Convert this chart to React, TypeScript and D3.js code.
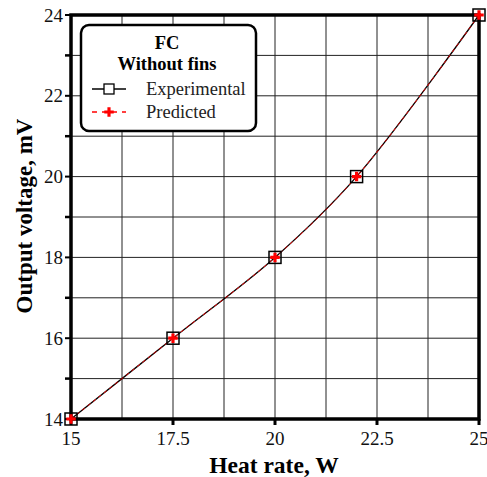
import React, { useEffect, useRef } from 'react';
import * as d3 from 'd3';

const heatRate = [15, 17.5, 20, 22, 25];
const experimental = [14, 16, 18, 20, 24];
const predicted = [14, 16, 18, 20, 24];
const xTicks = [15, 17.5, 20, 22.5, 25];
const yTicks = [14, 16, 18, 20, 22, 24];

const App = () => {
  const ref = useRef<SVGSVGElement>(null);

  useEffect(() => {
    const svg = d3.select(ref.current);
    svg.selectAll('*').remove();
    const font = '"Liberation Serif", "Times New Roman", serif';

    const x = d3.scaleLinear().domain([15, 25]).range([71, 479]);
    const y = d3.scaleLinear().domain([14, 24]).range([419, 15]);

    const g = svg.append('g');

    // grid
    const xGrid = d3.range(15, 25.01, 1.25);
    const yGrid = d3.range(14, 24.01, 1);
    g.selectAll('.gx')
      .data(xGrid)
      .enter()
      .append('line')
      .attr('x1', (d) => x(d))
      .attr('x2', (d) => x(d))
      .attr('y1', y(14))
      .attr('y2', y(24))
      .attr('stroke', '#222')
      .attr('stroke-width', 1);
    g.selectAll('.gy')
      .data(yGrid)
      .enter()
      .append('line')
      .attr('x1', x(15))
      .attr('x2', x(25))
      .attr('y1', (d) => y(d))
      .attr('y2', (d) => y(d))
      .attr('stroke', '#222')
      .attr('stroke-width', 1);

    // ticks
    g.selectAll('.tx')
      .data(xTicks)
      .enter()
      .append('line')
      .attr('x1', (d) => x(d))
      .attr('x2', (d) => x(d))
      .attr('y1', y(14))
      .attr('y2', y(14) + 6)
      .attr('stroke', '#000')
      .attr('stroke-width', 3);
    g.selectAll('.ty')
      .data(yGrid)
      .enter()
      .append('line')
      .attr('x1', x(15) - 6)
      .attr('x2', x(15))
      .attr('y1', (d) => y(d))
      .attr('y2', (d) => y(d))
      .attr('stroke', '#000')
      .attr('stroke-width', (d) => (d % 2 === 0 ? 2 : 2.5));

    // frame
    g.append('rect')
      .attr('x', x(15))
      .attr('y', y(24))
      .attr('width', x(25) - x(15))
      .attr('height', y(14) - y(24))
      .attr('fill', 'none')
      .attr('stroke', '#000')
      .attr('stroke-width', 3.5);

    // tick labels
    g.selectAll('.lx')
      .data(xTicks)
      .enter()
      .append('text')
      .attr('x', (d) => x(d))
      .attr('y', y(14) + 26)
      .attr('text-anchor', 'middle')
      .attr('font-family', font)
      .attr('font-size', 19)
      .attr('fill', '#111')
      .text((d) => String(d));
    g.selectAll('.ly')
      .data(yTicks)
      .enter()
      .append('text')
      .attr('x', x(15) - 8)
      .attr('y', (d) => y(d) + 6.5)
      .attr('text-anchor', 'end')
      .attr('font-family', font)
      .attr('font-size', 19)
      .attr('fill', '#111')
      .text((d) => String(d));

    // axis titles
    g.append('text')
      .attr('x', 274)
      .attr('y', 473)
      .attr('text-anchor', 'middle')
      .attr('font-family', font)
      .attr('font-weight', 'bold')
      .attr('font-size', 23.5)
      .text('Heat rate, W');
    g.append('text')
      .attr('transform', 'translate(32,216) rotate(-90)')
      .attr('text-anchor', 'middle')
      .attr('font-family', font)
      .attr('font-weight', 'bold')
      .attr('font-size', 23)
      .text('Output voltage, mV');

    // lines
    const expData = heatRate.map((h, i) => [h, experimental[i]] as [number, number]);
    const predData = heatRate.map((h, i) => [h, predicted[i]] as [number, number]);
    const line = d3
      .line<[number, number]>()
      .x((d) => x(d[0]))
      .y((d) => y(d[1]))
      .curve(d3.curveCatmullRom);
    g.append('path')
      .attr('d', line(expData))
      .attr('fill', 'none')
      .attr('stroke', '#000')
      .attr('stroke-width', 1.3);
    g.append('path')
      .attr('d', line(predData))
      .attr('fill', 'none')
      .attr('stroke', '#d00')
      .attr('stroke-width', 1)
      .attr('stroke-dasharray', '4,3');

    // markers
    g.selectAll('.sq')
      .data(expData)
      .enter()
      .append('rect')
      .attr('x', (d) => x(d[0]) - 6)
      .attr('y', (d) => y(d[1]) - 6)
      .attr('width', 12)
      .attr('height', 12)
      .attr('fill', 'none')
      .attr('stroke', '#000')
      .attr('stroke-width', 1.5);
    const plus = d3.symbol().type(d3.symbolCross).size(50);
    g.selectAll('.pl')
      .data(predData)
      .enter()
      .append('path')
      .attr('d', plus)
      .attr('transform', (d) => `translate(${x(d[0])},${y(d[1])})`)
      .attr('fill', '#f00');

    // legend
    const lg = g.append('g');
    lg.append('rect')
      .attr('x', 81)
      .attr('y', 25)
      .attr('width', 175)
      .attr('height', 106)
      .attr('rx', 8)
      .attr('fill', '#fff')
      .attr('stroke', '#000')
      .attr('stroke-width', 2.5);
    lg.append('text')
      .attr('x', 167)
      .attr('y', 49)
      .attr('text-anchor', 'middle')
      .attr('font-family', font)
      .attr('font-weight', 'bold')
      .attr('font-size', 18.5)
      .text('FC');
    lg.append('text')
      .attr('x', 167)
      .attr('y', 70)
      .attr('text-anchor', 'middle')
      .attr('font-family', font)
      .attr('font-weight', 'bold')
      .attr('font-size', 18.5)
      .text('Without fins');
    lg.append('line')
      .attr('x1', 92)
      .attr('x2', 126)
      .attr('y1', 89)
      .attr('y2', 89)
      .attr('stroke', '#000')
      .attr('stroke-width', 1.3);
    lg.append('rect')
      .attr('x', 104)
      .attr('y', 84)
      .attr('width', 10)
      .attr('height', 10)
      .attr('fill', '#fff')
      .attr('stroke', '#000')
      .attr('stroke-width', 1.3);
    lg.append('line')
      .attr('x1', 92)
      .attr('x2', 126)
      .attr('y1', 112)
      .attr('y2', 112)
      .attr('stroke', '#f00')
      .attr('stroke-width', 1.5)
      .attr('stroke-dasharray', '5,5');
    lg.append('path')
      .attr('d', plus)
      .attr('transform', 'translate(109,112)')
      .attr('fill', '#f00');
    lg.append('text')
      .attr('x', 146)
      .attr('y', 95)
      .attr('font-family', font)
      .attr('font-size', 18.5)
      .attr('fill', '#222')
      .text('Experimental');
    lg.append('text')
      .attr('x', 146)
      .attr('y', 118)
      .attr('font-family', font)
      .attr('font-size', 18.5)
      .attr('fill', '#222')
      .text('Predicted');
  }, []);

  return (
    <svg
      ref={ref}
      width={487}
      height={477}
      style={{ position: 'absolute', left: 0, top: 0, background: '#fff' }}
    />
  );
};

export default App;
